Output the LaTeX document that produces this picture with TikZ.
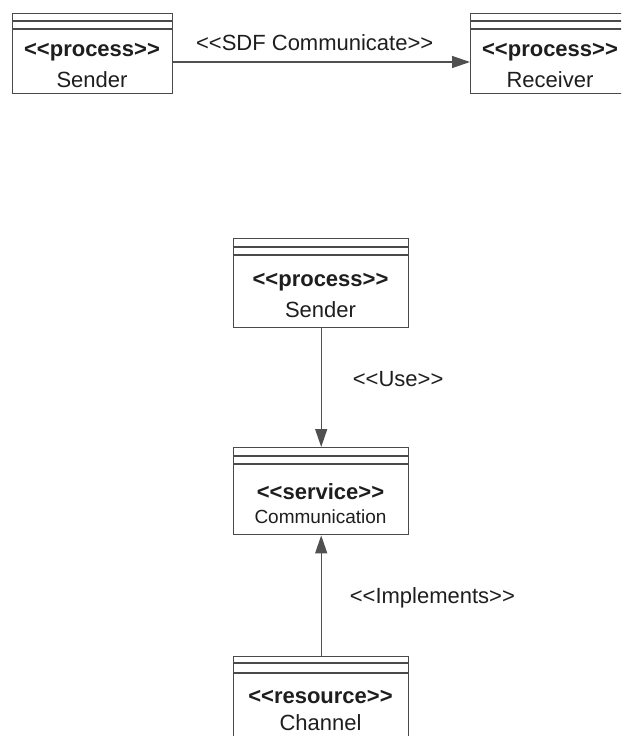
\documentclass[tikz,border=0pt]{standalone}
\usepackage{fontspec}
\setmainfont{Liberation Sans}
\usetikzlibrary{calc,arrows.meta}
\definecolor{boxgray}{HTML}{4A4A4A}
\definecolor{linegray}{HTML}{505050}
\definecolor{inkgray}{HTML}{1E1E1E}
% guillemet-free stereotype brackets
\newcommand{\stl}{<{}<}
\newcommand{\str}{>{}>}
\begin{document}
\begin{tikzpicture}[x=1pt,y=-1pt,
  umlbox/.style={draw=boxgray, line width=1.4pt, rectangle, inner sep=0pt,
    anchor=north west, fill=white},
  sepline/.style={draw=boxgray, line width=1.4pt},
  stereo/.style={font=\bfseries\fontsize{22pt}{24pt}\selectfont, text=inkgray, inner sep=0pt},
  cname/.style={font=\fontsize{22pt}{24pt}\selectfont, text=inkgray, inner sep=0pt},
  cnamesmall/.style={font=\fontsize{19pt}{21pt}\selectfont, text=inkgray, inner sep=0pt},
  conn/.style={draw=linegray, line width=1.3pt, -{Triangle[length=18pt,width=12pt]}},
  connlabel/.style={font=\fontsize{22pt}{24pt}\selectfont, text=inkgray, inner sep=0pt}]
\useasboundingbox (0,0) rectangle (621,736);
\clip (0,0) rectangle (621,736);

% --- first view: sender and receiver processes ---
\node[umlbox, minimum width=160pt, minimum height=80pt] (s1) at (12,13) {};
\node[umlbox, minimum width=160pt, minimum height=80pt] (r1) at (470,13) {};
\foreach \b in {s1,r1} {
  \draw[sepline] ($(\b.north west)+(0,8)$) -- ($(\b.north east)+(0,8)$);
  \draw[sepline] ($(\b.north west)+(0,16)$) -- ($(\b.north east)+(0,16)$);
}
\node[stereo] (s1st) at (92,52) {\stl process\str};
\node[cname] (s1nm) at (92,80) {Sender};
\node[stereo] (r1st) at (550,52) {\stl process\str};
\node[cname] (r1nm) at (550,80) {Receiver};

\draw[conn] ($(s1.north east)+(0,49)$) coordinate (c1a) -- ($(r1.north west)+(0,49)$) coordinate (c1b)
  node[connlabel, midway, anchor=south, xshift=-7pt, yshift=11pt] (sdf) {\stl SDF Communicate\str};

% --- second view: process uses a service implemented by a resource ---
\node[umlbox, minimum width=175pt, minimum height=89pt] (s2) at (233,238) {};
\node[umlbox, minimum width=175pt, minimum height=87pt] (svc) at (233,447) {};
\node[umlbox, minimum width=175pt, minimum height=100pt] (res) at (233,656) {};
\foreach \b in {s2,svc} {
  \draw[sepline] ($(\b.north west)+(0,9)$) -- ($(\b.north east)+(0,9)$);
  \draw[sepline] ($(\b.north west)+(0,17)$) -- ($(\b.north east)+(0,17)$);
}
\draw[sepline] ($(res.north west)+(0,7)$) -- ($(res.north east)+(0,7)$);
\draw[sepline] ($(res.north west)+(0,17)$) -- ($(res.north east)+(0,17)$);

\node[stereo] (s2st) at (320.5,282) {\stl process\str};
\node[cname] (s2nm) at (320.5,310) {Sender};
\node[stereo] (svcst) at (320.5,492) {\stl service\str};
\node[cnamesmall] (svcnm) at (320.5,517) {Communication};
\node[stereo] (resst) at (320.5,697) {\stl resource\str};
\node[cname] (resnm) at (320.5,723) {Channel};

\draw[conn] (s2.south) -- (svc.north)
  node[connlabel, pos=0.43, anchor=west, xshift=31pt] (use) {\stl Use\str};
\draw[conn] (res.north) -- (svc.south)
  node[connlabel, pos=0.48, anchor=west, xshift=28pt] (impl) {\stl Implements\str};
\end{tikzpicture}
\end{document}
